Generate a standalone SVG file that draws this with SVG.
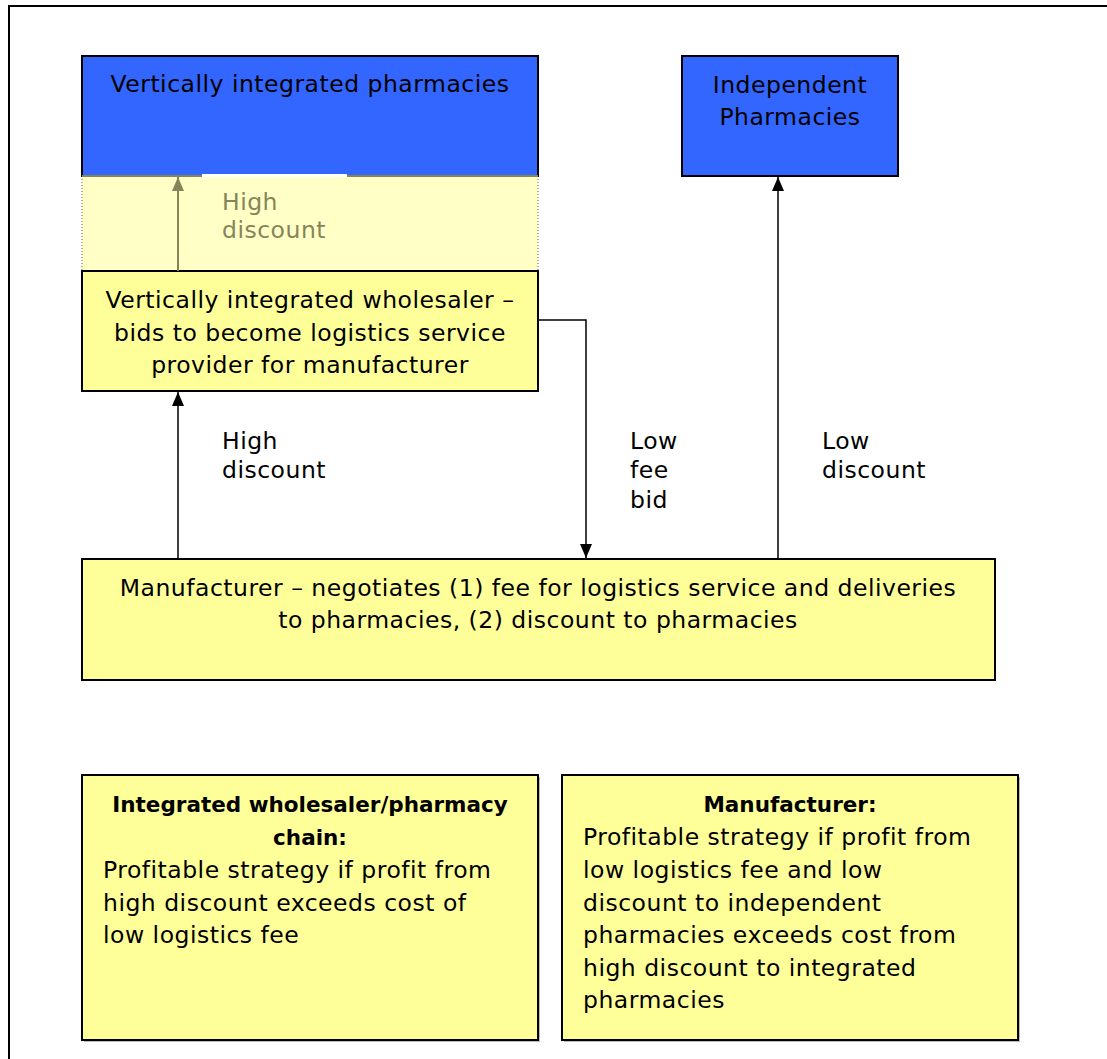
<svg xmlns="http://www.w3.org/2000/svg" width="1107" height="1059" viewBox="0 0 1107 1059">
<defs>
<style>
.t{font-family:"DejaVu Sans",Verdana,sans-serif;font-size:23.5px;letter-spacing:0.5px;fill:#000}
.c{text-anchor:middle}
.b{font-weight:bold;font-size:21.5px;letter-spacing:0}
.blue{fill:#3366FF;stroke:#000;stroke-width:2}
.yel{fill:#FFFF99;stroke:#000;stroke-width:2}
.ln{stroke:#000;stroke-width:1.5;fill:none}
.g{fill:#85855A}
</style>
<marker id="ah" viewBox="0 0 14 12" refX="14" refY="6" markerWidth="14" markerHeight="12" markerUnits="userSpaceOnUse" orient="auto"><path d="M0,0L14,6L0,12z" fill="#000"/></marker>
<marker id="ahg" viewBox="0 0 14 12" refX="14" refY="6" markerWidth="14" markerHeight="12" markerUnits="userSpaceOnUse" orient="auto"><path d="M0,0L14,6L0,12z" fill="#85855A"/></marker>
</defs>
<rect x="9" y="6" width="1200" height="1100" fill="#fff" stroke="#000" stroke-width="2"/>

<g id="pale-band">
<rect x="82" y="176" width="456" height="95" fill="#FFFFC6"/>
<line x1="82" y1="176" x2="82" y2="271" stroke="#666" stroke-width="1" stroke-dasharray="1,2"/>
<line x1="538" y1="176" x2="538" y2="271" stroke="#666" stroke-width="1" stroke-dasharray="1,2"/>
</g>

<g id="vip">
<rect class="blue" x="82" y="56" width="456" height="120"/>
<line x1="82" y1="176" x2="538" y2="176" stroke="#85855A" stroke-width="2"/>
<line x1="202" y1="175.5" x2="347" y2="175.5" stroke="#fff" stroke-width="3"/>
<text class="t c" x="310" y="92">Vertically integrated pharmacies</text>
</g>

<g id="indep">
<rect class="blue" x="682" y="56" width="216" height="120"/>
<text class="t c" x="790" y="93">Independent</text>
<text class="t c" x="790" y="125">Pharmacies</text>
</g>

<g id="wholesaler">
<rect class="yel" x="82" y="271" width="456" height="120"/>
<text class="t c" x="310" y="308">Vertically integrated wholesaler –</text>
<text class="t c" x="310" y="341">bids to become logistics service</text>
<text class="t c" x="310" y="373">provider for manufacturer</text>
</g>

<g id="manufacturer">
<rect class="yel" x="82" y="559" width="913" height="121"/>
<text class="t c" x="538" y="596">Manufacturer – negotiates (1) fee for logistics service and deliveries</text>
<text class="t c" x="538" y="628">to pharmacies, (2) discount to pharmacies</text>
</g>

<g id="note-left">
<rect x="84" y="777" width="456" height="265" fill="#bbb"/>
<rect class="yel" x="82" y="775" width="456" height="265"/>
<text class="t c b" x="310" y="812">Integrated wholesaler/pharmacy</text>
<text class="t c b" x="310" y="845">chain:</text>
<text class="t" x="103" y="878">Profitable strategy if profit from</text>
<text class="t" x="103" y="911">high discount exceeds cost of</text>
<text class="t" x="103" y="943">low logistics fee</text>
</g>

<g id="note-right">
<rect x="564" y="777" width="456" height="265" fill="#bbb"/>
<rect class="yel" x="562" y="775" width="456" height="265"/>
<text class="t c b" x="790" y="812">Manufacturer:</text>
<text class="t" x="583" y="845">Profitable strategy if profit from</text>
<text class="t" x="583" y="878">low logistics fee and low</text>
<text class="t" x="583" y="911">discount to independent</text>
<text class="t" x="583" y="943">pharmacies exceeds cost from</text>
<text class="t" x="583" y="976">high discount to integrated</text>
<text class="t" x="583" y="1008">pharmacies</text>
</g>

<g id="connectors">
<line x1="178" y1="271" x2="178" y2="177" stroke="#85855A" stroke-width="2" marker-end="url(#ahg)"/>
<line class="ln" x1="178" y1="559" x2="178" y2="392" marker-end="url(#ah)"/>
<polyline class="ln" points="538,320 586,320 586,558" marker-end="url(#ah)"/>
<line class="ln" x1="778" y1="559" x2="778" y2="177" marker-end="url(#ah)"/>
</g>

<g id="labels">
<text class="t g" x="222" y="210">High</text>
<text class="t g" x="222" y="238">discount</text>
<text class="t" x="222" y="449">High</text>
<text class="t" x="222" y="478">discount</text>
<text class="t" x="630" y="449">Low</text>
<text class="t" x="630" y="478">fee</text>
<text class="t" x="630" y="508">bid</text>
<text class="t" x="822" y="449">Low</text>
<text class="t" x="822" y="478">discount</text>
</g>
</svg>
